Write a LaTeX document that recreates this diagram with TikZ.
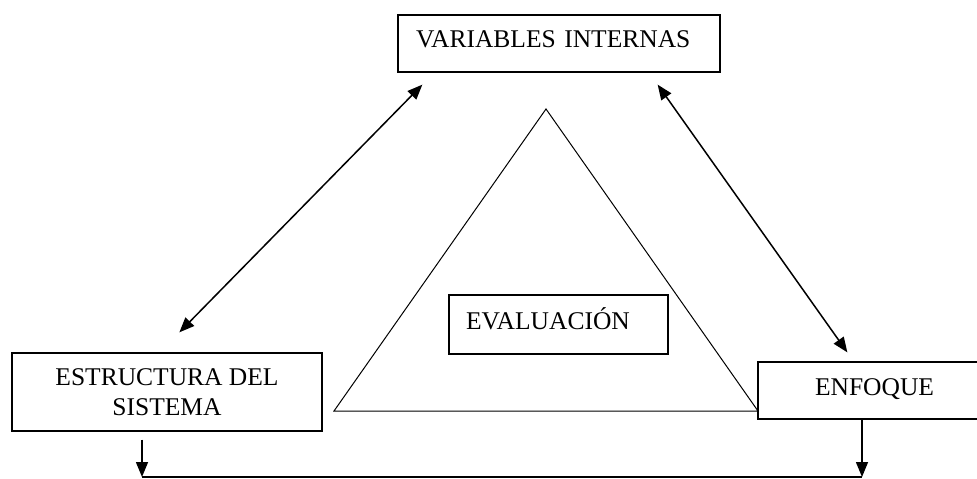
\documentclass[tikz,border=0pt]{standalone}
\usepackage{fontspec}
\setmainfont{Liberation Serif}
\usetikzlibrary{arrows.meta, calc}
\tikzset{>={Triangle[length=15pt,width=12pt]}}
\tikzset{caja/.style={draw, line width=1.3pt, inner ysep=0pt, font=\fontsize{25.5}{30.5}\selectfont}}

\begin{document}
\begin{tikzpicture}[x=1pt,y=-1pt]
\clip (0,0) rectangle (977,479);
% triangulo
\draw[line width=1pt] (546,109) -- (334,411) -- (758,411) -- cycle;
% cajas
\node[caja, inner xsep=18pt, text width=286pt, align=left, text height=32pt, text depth=25pt] (vi) at (559,43.5) {VARIABLES INTERNAS};
\node[caja, inner xsep=17pt, text width=185pt, align=left, text height=34pt, text depth=25pt] (ev) at (558.5,324.5) {EVALUACIÓN};
\node[caja, minimum width=310pt, minimum height=78pt, align=center] (est) at (167,392) {ESTRUCTURA DEL\\SISTEMA};
\node[caja, minimum width=233pt, text height=33pt, text depth=24pt] (enf) at (874.5,390.5) {ENFOQUE};
% flechas
\draw[<->, line width=1.5pt] ([shift={(25,12)}]vi.south west) -- ([shift={(168,-20)}]est.north west);
\draw[<->, line width=1.5pt] ([shift={(-63,12)}]vi.south east) -- ([shift={(90,-9)}]enf.north west);
\coordinate (bl) at (142,477);
\coordinate (br) at (862,477);
\draw[->, line width=1.5pt] ($(est.south -| bl)+(0,8)$) -- (bl);
\draw[->, line width=1.5pt] (enf.south -| br) -- (br);
\draw[line width=1.3pt] (bl) -- (br);
\end{tikzpicture}
\end{document}
